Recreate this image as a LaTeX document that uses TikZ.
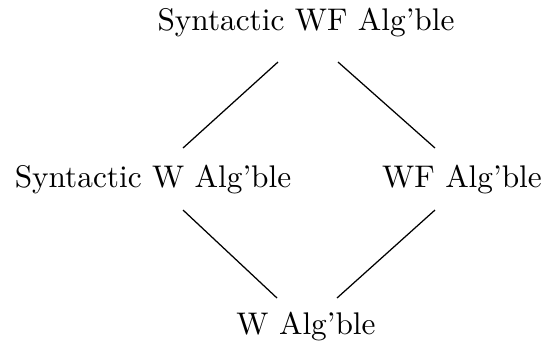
\documentclass[tikz,border=0pt]{standalone}
\usetikzlibrary{calc}
\begin{document}
\begin{tikzpicture}[x=0.3195pt,y=-0.3195pt,
  lbl/.style={inner sep=0pt,font=\fontsize{10}{12}\selectfont},
  edge/.style={line width=0.4pt}]
\useasboundingbox (0,0) rectangle (545,352);
\node[lbl] (top) at (306,23) {Syntactic WF Alg'ble};
\node[lbl] (left) at (153,180) {Syntactic W Alg'ble};
\node[lbl] (right) at (462,180) {WF Alg'ble};
\node[lbl] (bot) at (306,327) {W Alg'ble};
\draw[edge] ($(top.center)+(-28,39)$) -- ($(left.center)+(30,-32)$);
\draw[edge] ($(top.center)+(32,39)$) -- ($(right.center)+(-27,-32)$);
\draw[edge] ($(left.center)+(30,30)$) -- ($(bot.center)+(-29,-29)$);
\draw[edge] ($(right.center)+(-27,30)$) -- ($(bot.center)+(31,-29)$);
\end{tikzpicture}
\end{document}
